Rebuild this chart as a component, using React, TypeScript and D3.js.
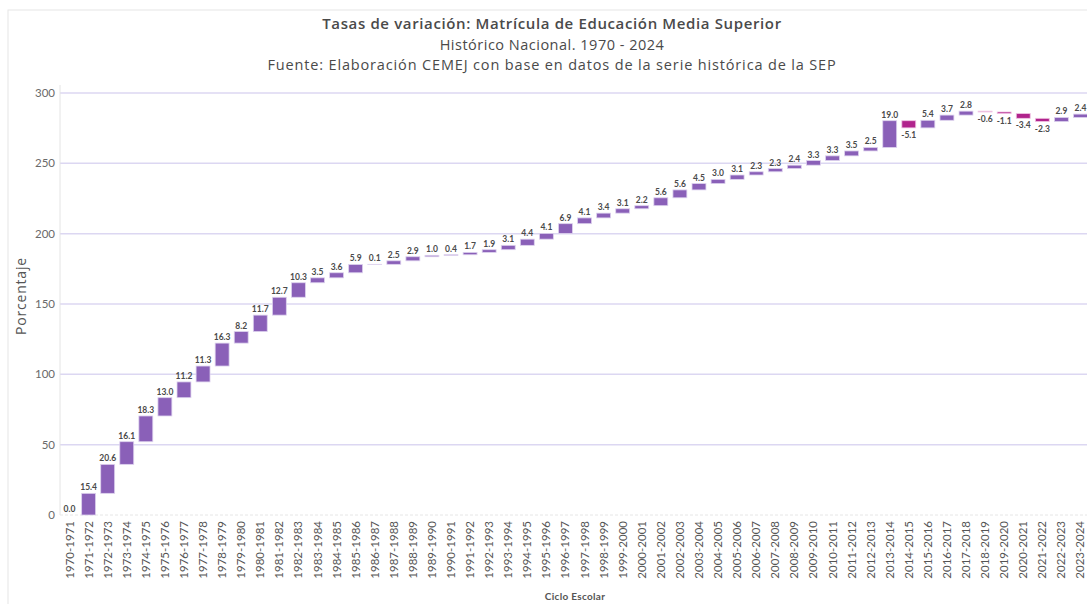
import React from "react";
import * as d3 from "d3";

const categories: string[] = [
  "1970-1971","1971-1972","1972-1973","1973-1974","1974-1975","1975-1976","1976-1977","1977-1978","1978-1979","1979-1980",
  "1980-1981","1981-1982","1982-1983","1983-1984","1984-1985","1985-1986","1986-1987","1987-1988","1988-1989","1989-1990",
  "1990-1991","1991-1992","1992-1993","1993-1994","1994-1995","1995-1996","1996-1997","1997-1998","1998-1999","1999-2000",
  "2000-2001","2001-2002","2002-2003","2003-2004","2004-2005","2005-2006","2006-2007","2007-2008","2008-2009","2009-2010",
  "2010-2011","2011-2012","2012-2013","2013-2014","2014-2015","2015-2016","2016-2017","2017-2018","2018-2019","2019-2020",
  "2020-2021","2021-2022","2022-2023","2023-2024",
];

const rates: number[] = [
  0.0, 15.4, 20.6, 16.1, 18.3, 13.0, 11.2, 11.3, 16.3, 8.2,
  11.7, 12.7, 10.3, 3.5, 3.6, 5.9, 0.1, 2.5, 2.9, 1.0,
  0.4, 1.7, 1.9, 3.1, 4.4, 4.1, 6.9, 4.1, 3.4, 3.1,
  2.2, 5.6, 5.6, 4.5, 3.0, 3.1, 2.3, 2.3, 2.4, 3.3,
  3.3, 3.5, 2.5, 19.0, -5.1, 5.4, 3.7, 2.8, -0.6, -1.1,
  -3.4, -2.3, 2.9, 2.4,
];

const yTicks: number[] = [0, 50, 100, 150, 200, 250, 300];

const titleLines: string[] = [
  "Tasas de variación: Matrícula de Educación Media Superior",
  "Histórico Nacional. 1970 - 2024",
  "Fuente: Elaboración CEMEJ con base en datos de la serie histórica de la SEP",
];

const W = 1087;
const H = 604;
const M = { left: 60, right: 1090, top: 93, bottom: 515 };
const FONT = "Lato, 'Open Sans', sans-serif";
const TFONT = "'Open Sans', Lato, sans-serif";

const titleStyle = [
  { size: 15, weight: 600, ls: 0.63 },
  { size: 14.5, weight: 400, ls: 0.5 },
  { size: 14.5, weight: 400, ls: 0.85 },
];

export default function App() {
  const ends = Array.from(d3.cumsum(rates));
  const data = categories.map((c, i) => ({
    c,
    v: rates[i],
    start: i === 0 ? 0 : ends[i - 1],
    end: ends[i],
  }));

  const x = d3.scaleBand<string>().domain(categories).range([M.left, M.right]).paddingInner(0.27).paddingOuter(0.135);
  const y = d3.scaleLinear().domain([0, 300]).range([M.bottom, M.top]);

  return (
    <svg width={W} height={H} style={{ position: "absolute", left: 0, top: 0, background: "#fff" }} fontFamily={FONT}>
      <rect x={8} y={10} width={W} height={H} fill="none" stroke="#e6e6e6" strokeWidth={1} />
      {titleLines.map((t, i) => (
        <text key={i} x={552} y={29 + i * 20.5} textAnchor="middle" fontFamily={TFONT}
          fontSize={titleStyle[i].size} fontWeight={titleStyle[i].weight} letterSpacing={titleStyle[i].ls} fill="#4a4a4a">
          {t}
        </text>
      ))}
      {yTicks.map((t) => (
        <g key={t}>
          {t > 0 && <line x1={M.left} x2={W} y1={y(t)} y2={y(t)} stroke="#dcd7f2" strokeWidth={1.5} />}
          <text x={55} y={y(t)} dy="0.35em" textAnchor="end" fontSize={11.5} fill="#6a6a6a">{t}</text>
        </g>
      ))}
      <line x1={M.left} x2={M.left} y1={M.top - 8} y2={M.bottom} stroke="#e4e4e4" strokeWidth={1} />
      <line x1={M.left} x2={W} y1={M.bottom} y2={M.bottom} stroke="#e6e6e6" strokeWidth={1} strokeDasharray="3,2" />
      <text transform={`translate(26,${(M.top + M.bottom) / 2 - 8}) rotate(-90)`} textAnchor="middle" fontFamily={TFONT} fontSize={14} letterSpacing={0.8} fill="#555">Porcentaje</text>
      {data.map((d) => {
        const x0 = x(d.c)!;
        const bw = x.bandwidth();
        const top = y(Math.max(d.start, d.end));
        const bot = y(Math.min(d.start, d.end));
        const neg = d.v < 0;
        return (
          <g key={d.c}>
            {d.v !== 0 && (
              <rect x={x0} y={top} width={bw} height={bot - top}
                fill={neg ? "#b0238c" : "#8a60b8"}
                stroke={neg ? "#f0c6e4" : "#ddd2ee"} strokeWidth={0.8} />
            )}
            <text x={x0 + bw / 2} y={neg ? bot + 10 : top - 3} textAnchor="middle" fontSize={8.5} fontWeight={700} fill="#4a4a4a">
              {d.v.toFixed(1)}
            </text>
          </g>
        );
      })}
      {categories.map((c) => (
        <text key={c} transform={`translate(${x(c)! + x.bandwidth() / 2 + 4},${M.bottom + 6}) rotate(-90)`} textAnchor="end" fontSize={11.5} fill="#555">
          {c}
        </text>
      ))}
      <text x={575} y={600} textAnchor="middle" fontSize={10} fontWeight={700} letterSpacing={0.3} fill="#555">Ciclo Escolar</text>
    </svg>
  );
}
